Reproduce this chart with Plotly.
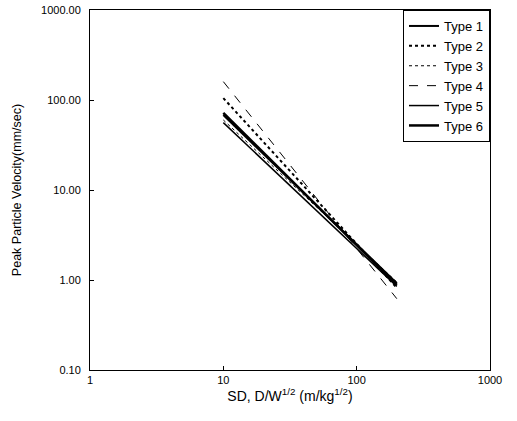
import plotly.graph_objects as go

sd = [10, 200]
series_names = ["Type 1", "Type 2", "Type 3", "Type 4", "Type 5", "Type 6"]
type1 = [68, 0.92]
type2 = [105, 0.82]
type3 = [60, 0.95]
type4 = [160, 0.62]
type5 = [56, 0.85]
type6 = [72, 0.88]
x_ticks = [1, 10, 100, 1000]
x_tick_labels = ["1", "10", "100", "1000"]
y_ticks = [0.1, 1, 10, 100, 1000]
y_tick_labels = ["0.10", "1.00", "10.00", "100.00", "1000.00"]

values = [type1, type2, type3, type4, type5, type6]
styles = [("solid", 2), ("dot", 2), ("dot", 1), ("dash", 1), ("solid", 1.5), ("solid", 2.5)]

fig = go.Figure()
for name, v, (dash, w) in zip(series_names, values, styles):
    fig.add_trace(go.Scatter(x=sd, y=v, mode="lines", name=name,
                             line=dict(color="black", width=w, dash=dash)))

axis_common = dict(type="log", showgrid=False, zeroline=False, showline=True,
                   linecolor="black", linewidth=1, mirror=True,
                   ticks="inside", ticklen=4, tickcolor="black", automargin=False,
                   tickfont=dict(family="Liberation Sans, Arial", size=11, color="black"))

fig.update_xaxes(range=[0, 3], tickvals=x_ticks, ticktext=x_tick_labels,
                 title=dict(text="SD, D/W<sup>1/2</sup> (m/kg<sup>1/2</sup>)",
                            font=dict(family="Liberation Sans, Arial", size=14, color="black"),
                            standoff=2),
                 **axis_common)
fig.update_yaxes(range=[-1, 3], tickvals=y_ticks, ticktext=y_tick_labels,
                 ticklabelstandoff=6,
                 title=dict(text="Peak Particle Velocity(mm/sec)",
                            font=dict(family="Liberation Sans, Arial", size=12.5, color="black"),
                            standoff=16),
                 **axis_common)

fig.update_layout(
    width=517, height=421,
    margin=dict(l=90, r=27, t=10, b=51),
    paper_bgcolor="white", plot_bgcolor="white",
    legend=dict(x=1, y=1, xanchor="right", yanchor="top",
                bordercolor="black", borderwidth=1, bgcolor="white",
                font=dict(family="Liberation Sans, Arial", size=13, color="black"),
                tracegroupgap=0, itemwidth=30),
)

fig.write_html("out.html", config={"displayModeBar": False},
               post_script="document.body.style.margin='0';")
